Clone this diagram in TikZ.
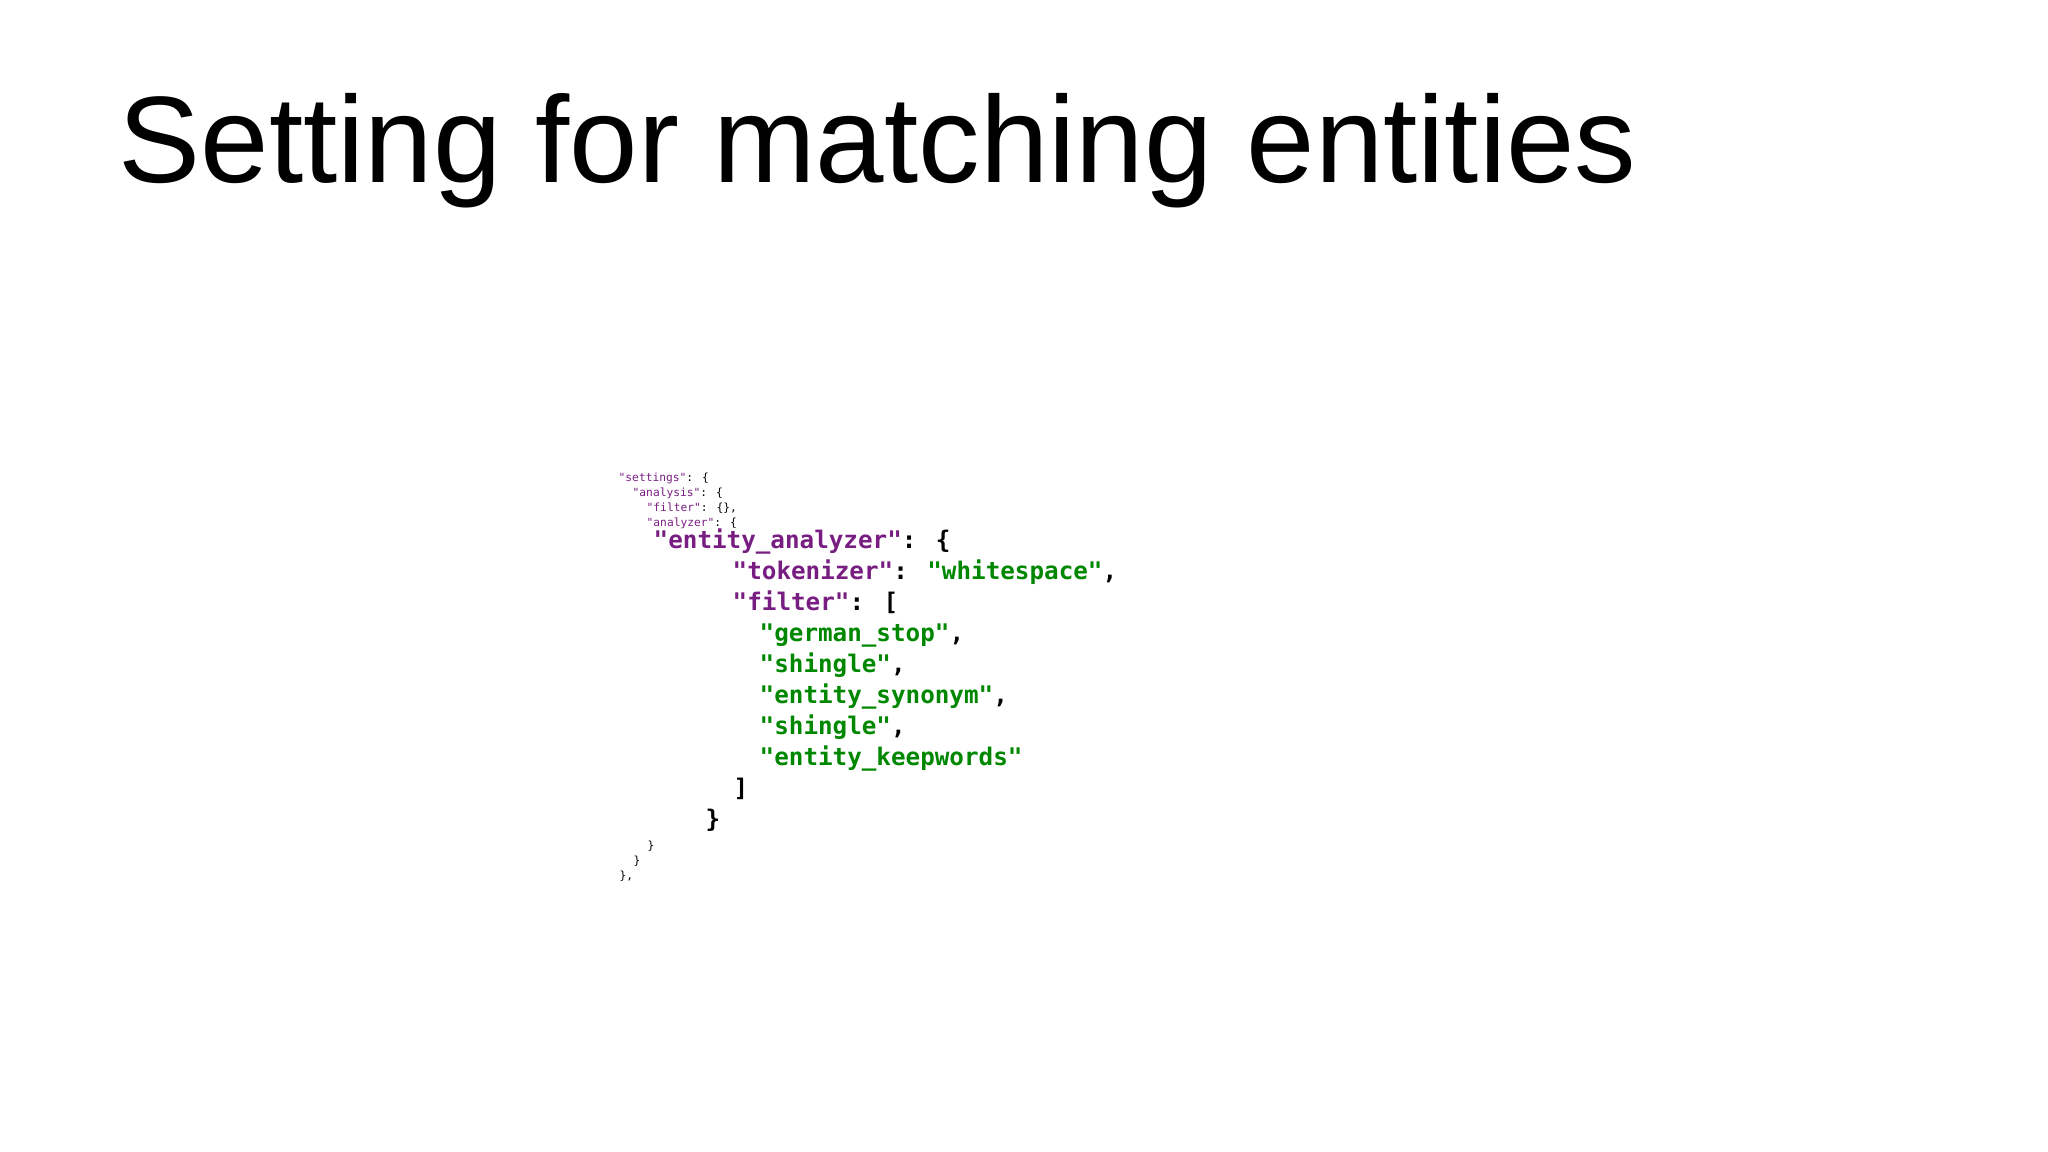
\documentclass[tikz,border=0pt]{standalone}
\usepackage{fontspec}
\usepackage{xcolor}
\usetikzlibrary{positioning}
\setmainfont{Liberation Sans}
\newfontfamily\codefont{DejaVu Sans Mono}
\definecolor{keypurple}{RGB}{120, 30, 130}
\definecolor{valgreen}{RGB}{0, 135, 0}
\definecolor{textdark}{RGB}{0, 0, 0}

\tikzset{
    smallcode/.style={anchor=mid west, inner sep=0pt, font=\codefont\fontsize{3.2pt}{3.6pt}\selectfont},
    bigcode/.style={anchor=mid west, inner sep=0pt, font=\codefont\bfseries\fontsize{6.9pt}{8pt}\selectfont},
    keytext/.style={text=keypurple},
    valtext/.style={text=valgreen}
}

\begin{document}
\begin{tikzpicture}
    \useasboundingbox (0,0) rectangle (20.48,-11.52);
    % title
    \node[anchor=base west, inner sep=0pt, font=\fontsize{35pt}{40pt}\selectfont] (title) at (1.18,-1.83) {Setting for matching entities};

    % outer settings, small
    \node[smallcode] (settings) at (6.18,-4.72) {\textcolor{keypurple}{"settings"}: \{};
    \node[smallcode] (analysis) at (6.32,-4.87) {\textcolor{keypurple}{"analysis"}: \{};
    \node[smallcode] (emptyfilter) at (6.46,-5.02) {\textcolor{keypurple}{"filter"}: \{\},};
    \node[smallcode] (analyzer) at (6.46,-5.17) {\textcolor{keypurple}{"analyzer"}: \{};

    % the analyzer itself
    \node[bigcode] (entity) at (6.53,-5.39) {\textcolor{keypurple}{"entity\_analyzer"}: \{};
    \node[bigcode] (tokenizer) at (7.32,-5.70) {\textcolor{keypurple}{"tokenizer"}: \textcolor{valgreen}{"whitespace"},};
    \node[bigcode] (filter) at (7.32,-6.01) {\textcolor{keypurple}{"filter"}: [};
    \node[bigcode] (germanstop) at (7.59,-6.32) {\textcolor{valgreen}{"german\_stop"},};
    \node[bigcode] (shingleA) at (7.59,-6.63) {\textcolor{valgreen}{"shingle"},};
    \node[bigcode] (synonym) at (7.59,-6.94) {\textcolor{valgreen}{"entity\_synonym"},};
    \node[bigcode] (shingleB) at (7.59,-7.25) {\textcolor{valgreen}{"shingle"},};
    \node[bigcode] (keepwords) at (7.59,-7.56) {\textcolor{valgreen}{"entity\_keepwords"}};
    \node[bigcode] (closefilter) at (7.33,-7.87) {]};
    \node[bigcode] (closeentity) at (7.05,-8.18) {\}};

    % closing braces, small
    \node[smallcode] (closeanalyzer) at (6.47,-8.40) {\}};
    \node[smallcode] (closeanalysis) at (6.33,-8.55) {\}};
    \node[smallcode] (closesettings) at (6.19,-8.70) {\},};
\end{tikzpicture}
\end{document}
